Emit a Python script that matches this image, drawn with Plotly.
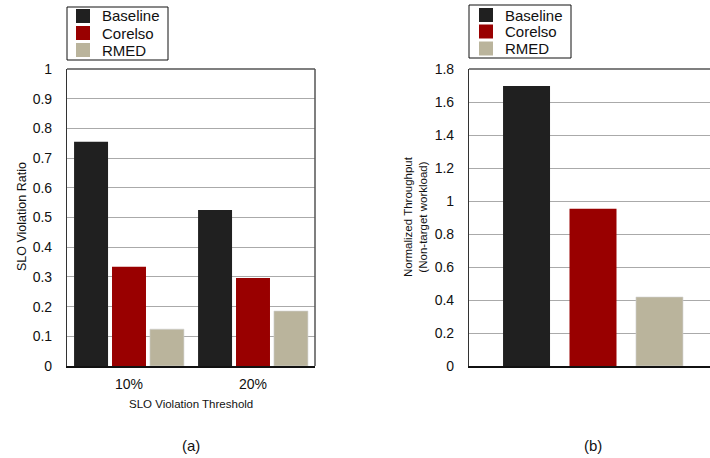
import plotly.graph_objects as go

series = ["Baseline", "CoreIso", "RMED"]
series_labels = ["Baseline", "Corelso", "RMED"]
colors = ["#202020", "#990000", "#bab49c"]

thresholds = ["10%", "20%"]
slo_ratio = {
    "Baseline": [0.755, 0.525],
    "CoreIso": [0.334, 0.296],
    "RMED": [0.124, 0.185],
}
throughput_cat = [""]
throughput = {
    "Baseline": [1.697],
    "CoreIso": [0.953],
    "RMED": [0.418],
}

y_a_ticks = [0, 0.1, 0.2, 0.3, 0.4, 0.5, 0.6, 0.7, 0.8, 0.9, 1]
y_b_ticks = [0, 0.2, 0.4, 0.6, 0.8, 1, 1.2, 1.4, 1.6, 1.8]

FONT = "Liberation Sans, Arial, Helvetica, sans-serif"
W, H = 710, 458


def px(x):
    return x / W


def py(y):
    return 1 - y / H


fig = go.Figure()

wa = 0.274
pa = 0.306
wb = 0.1895
pb = 0.268
for i, (s, lab, c) in enumerate(zip(series, series_labels, colors)):
    fig.add_trace(go.Bar(
        x=thresholds, y=slo_ratio[s], name=lab, marker_color=c,
        marker_line_width=0.6 if s == "RMED" else 0,
        marker_line_color="#d0d0d0",
        width=wa, offset=(i - 1) * pa - wa / 2,
        xaxis="x", yaxis="y", showlegend=False,
    ))
for i, (s, lab, c) in enumerate(zip(series, series_labels, colors)):
    fig.add_trace(go.Bar(
        x=throughput_cat, y=throughput[s], name=lab, marker_color=c,
        marker_line_width=0.6 if s == "RMED" else 0,
        marker_line_color="#d0d0d0",
        width=wb, offset=(i - 1) * pb - wb / 2,
        xaxis="x2", yaxis="y2", showlegend=False,
    ))

ydom = [py(366), py(69)]

shapes = [
    dict(type="line", xref="paper", yref="paper", x0=px(67), x1=px(315),
         y0=ydom[1], y1=ydom[1], line=dict(color="#555", width=1.5)),
    dict(type="line", xref="paper", yref="paper", x0=px(315), x1=px(315),
         y0=ydom[0], y1=ydom[1], line=dict(color="#555", width=1.5)),
    dict(type="line", xref="paper", yref="paper", x0=px(469), x1=1.0,
         y0=ydom[1], y1=ydom[1], line=dict(color="#555", width=1.5)),
]
annotations = [
    dict(text="SLO Violation Threshold", xref="paper", yref="paper",
         x=px(191), y=py(404), showarrow=False, font=dict(size=11.5),
         xanchor="center", yanchor="middle"),
    dict(text="(a)", xref="paper", yref="paper", x=px(191), y=py(445),
         showarrow=False, font=dict(size=15), xanchor="center", yanchor="middle"),
    dict(text="(b)", xref="paper", yref="paper", x=px(593), y=py(445),
         showarrow=False, font=dict(size=15), xanchor="center", yanchor="middle"),
    dict(text="SLO Violation Ratio", xref="paper", yref="paper",
         x=px(22), y=py(217), showarrow=False, textangle=-90,
         font=dict(size=12.5), xanchor="center", yanchor="middle"),
    dict(text="Normalized Throughput<br>(Non-target workload)", xref="paper", yref="paper",
         x=px(416), y=py(217), showarrow=False, textangle=-90,
         font=dict(size=11.5), xanchor="center", yanchor="middle"),
]

# Legend boxes (drawn per panel)
legend_specs = [
    dict(box=(67, 7, 168, 60), sw_x=76, txt_x=100, yc=[16, 33, 50]),
    dict(box=(469, 5, 571, 58), sw_x=479, txt_x=503, yc=[15, 31.5, 48.5]),
]
for spec in legend_specs:
    x0, y0, x1, y1 = spec["box"]
    shapes.append(dict(type="rect", xref="paper", yref="paper",
                       x0=px(x0), x1=px(x1), y0=py(y1), y1=py(y0),
                       line=dict(color="#111", width=1), fillcolor="white", layer="above"))
    for lab, c, yc in zip(series_labels, colors, spec["yc"]):
        shapes.append(dict(type="rect", xref="paper", yref="paper",
                           x0=px(spec["sw_x"]), x1=px(spec["sw_x"] + 14),
                           y0=py(yc + 7), y1=py(yc - 7),
                           line=dict(width=0), fillcolor=c, layer="above"))
        annotations.append(dict(text=lab, xref="paper", yref="paper",
                                x=px(spec["txt_x"]), y=py(yc), showarrow=False,
                                font=dict(size=15, color="#111"),
                                xanchor="left", yanchor="middle"))

fig.update_layout(
    width=W, height=H,
    margin=dict(l=0, r=0, t=0, b=0, autoexpand=False),
    paper_bgcolor="white", plot_bgcolor="white",
    font=dict(family=FONT, color="#111", size=14),
    barmode="overlay",
    showlegend=False,
    xaxis=dict(domain=[px(67), px(315)], range=[-0.5, 1.5], type="category",
               showline=True, linecolor="#111", linewidth=1.5, mirror=False,
               ticks="outside", ticklen=4, tickcolor="rgba(0,0,0,0)",
               tickfont=dict(size=14), showgrid=False, fixedrange=True),
    yaxis=dict(domain=ydom, range=[0, 1], tickvals=y_a_ticks,
               ticktext=[f"{v:g}" for v in y_a_ticks],
               showline=True, linecolor="#333", linewidth=1.2,
               gridcolor="#aaaaaa", gridwidth=1.3, zeroline=False,
               ticks="outside", ticklen=11, tickcolor="rgba(0,0,0,0)",
               tickfont=dict(size=14), fixedrange=True),
    xaxis2=dict(domain=[px(469), 1.0], range=[-0.5, 0.5 - 7 / 248], type="category",
                anchor="y2",
                showline=True, linecolor="#111", linewidth=1.5,
                showticklabels=False, showgrid=False, fixedrange=True),
    yaxis2=dict(domain=ydom, range=[0, 1.8], tickvals=y_b_ticks, anchor="x2",
                ticktext=[f"{v:g}" for v in y_b_ticks],
                showline=True, linecolor="#333", linewidth=1.2,
                gridcolor="#aaaaaa", gridwidth=1.3, zeroline=False,
                ticks="outside", ticklen=11, tickcolor="rgba(0,0,0,0)",
                tickfont=dict(size=14), fixedrange=True),
    shapes=shapes,
    annotations=annotations,
)

fig.write_html("out.html", config={"displayModeBar": False},
               post_script="document.body.style.margin='0';document.body.style.overflow='hidden';")
